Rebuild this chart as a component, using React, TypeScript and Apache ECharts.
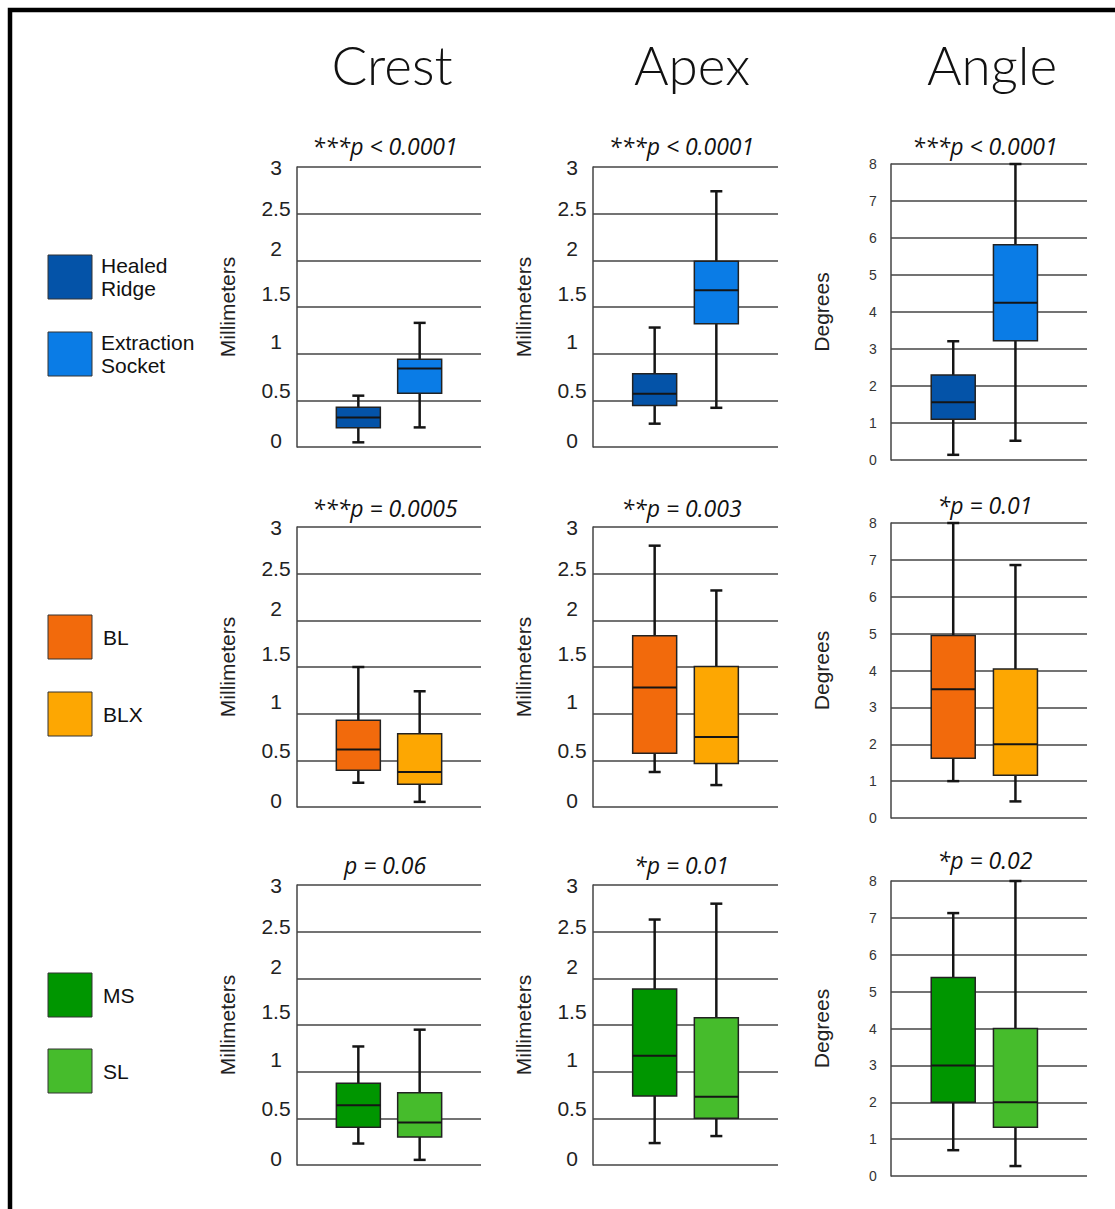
import React, { useEffect, useRef } from "react";
import * as echarts from "echarts";

// ---------- data ----------
const columnTitles = ["Crest", "Apex", "Angle"];
const axisNames = ["Millimeters", "Millimeters", "Degrees"];
const pLabels = [
  ["***p < 0.0001", "***p < 0.0001", "***p < 0.0001"],
  ["***p = 0.0005", "**p = 0.003", "*p = 0.01"],
  ["p = 0.06", "*p = 0.01", "*p = 0.02"],
];
const legendLabels = [["Healed", "Ridge"], ["Extraction", "Socket"], ["BL"], ["BLX"], ["MS"], ["SL"]];
const groupColors = ["#0453A8", "#0A7CE6", "#F26A0C", "#FDA702", "#009600", "#46BC2C"];

// [min, Q1, median, Q3, max]
const crestHealedRidge = [0.05, 0.205, 0.315, 0.425, 0.55];
const crestExtractionSocket = [0.21, 0.575, 0.84, 0.94, 1.33];
const apexHealedRidge = [0.25, 0.445, 0.57, 0.785, 1.28];
const apexExtractionSocket = [0.42, 1.32, 1.68, 1.99, 2.74];
const angleHealedRidge = [0.14, 1.1, 1.56, 2.3, 3.21];
const angleExtractionSocket = [0.52, 3.22, 4.25, 5.82, 8.0];

const crestBL = [0.26, 0.395, 0.615, 0.93, 1.5];
const crestBLX = [0.055, 0.245, 0.375, 0.785, 1.24];
const apexBL = [0.375, 0.575, 1.28, 1.835, 2.8];
const apexBLX = [0.235, 0.465, 0.75, 1.505, 2.32];
const angleBL = [1.0, 1.62, 3.49, 4.95, 8.0];
const angleBLX = [0.45, 1.16, 2.0, 4.04, 6.86];

const crestMS = [0.23, 0.405, 0.64, 0.875, 1.27];
const crestSL = [0.055, 0.3, 0.455, 0.775, 1.45];
const apexMS = [0.235, 0.74, 1.17, 1.885, 2.63];
const apexSL = [0.31, 0.5, 0.73, 1.578, 2.8];
const angleMS = [0.7, 2.0, 3.0, 5.38, 7.13];
const angleSL = [0.27, 1.32, 2.0, 4.0, 8.0];

const panelData = [
  [[crestHealedRidge, crestExtractionSocket], [apexHealedRidge, apexExtractionSocket], [angleHealedRidge, angleExtractionSocket]],
  [[crestBL, crestBLX], [apexBL, apexBLX], [angleBL, angleBLX]],
  [[crestMS, crestSL], [apexMS, apexSL], [angleMS, angleSL]],
];
const rowColors = [
  [groupColors[0], groupColors[1]],
  [groupColors[2], groupColors[3]],
  [groupColors[4], groupColors[5]],
];

// ---------- layout ----------
const FONT = "'Liberation Sans', Arial, Helvetica, sans-serif";
const GRID_COLOR = "#444";
const colLeft = [297, 593, 891];
const colWidth = [184, 185, 196];
const mmTop = [167, 527, 885];
const angleTop = [164, 523, 881];
const angleHeight = [296, 295, 295];
const pLabelY = [
  [146, 146, 146],
  [508, 508, 505],
  [865, 865, 860],
];
const legendTop = [255, 332, 615, 692, 973, 1049];
const mmLabelShift = [-7, -10, -12, -13.5, -12, -5, 0];

function makeRenderItem(colors: string[]) {
  return (params: any, api: any) => {
    const x = api.value(0);
    const lo = api.coord([x, api.value(1)]);
    const q1 = api.coord([x, api.value(2)]);
    const md = api.coord([x, api.value(3)]);
    const q3 = api.coord([x, api.value(4)]);
    const hi = api.coord([x, api.value(5)]);
    const cx = lo[0];
    const half = 22;
    const cap = 6;
    const color = colors[params.dataIndex];
    const ws = { stroke: "#151515", lineWidth: 2.5 };
    return {
      type: "group",
      children: [
        { type: "line", shape: { x1: cx, y1: hi[1], x2: cx, y2: lo[1] }, style: ws },
        { type: "line", shape: { x1: cx - cap, y1: hi[1], x2: cx + cap, y2: hi[1] }, style: ws },
        { type: "line", shape: { x1: cx - cap, y1: lo[1], x2: cx + cap, y2: lo[1] }, style: ws },
        {
          type: "rect",
          shape: { x: cx - half, y: q3[1], width: half * 2, height: q1[1] - q3[1] },
          style: { fill: color, stroke: "#222", lineWidth: 1.5 },
        },
        {
          type: "line",
          shape: { x1: cx - half, y1: md[1], x2: cx + half, y2: md[1] },
          style: { stroke: "#151515", lineWidth: 2 },
        },
      ],
    };
  };
}

function buildOption() {
  const grid: any[] = [];
  const xAxis: any[] = [];
  const yAxis: any[] = [];
  const series: any[] = [];
  const graphic: any[] = [];

  const mmRich: any = {};
  mmLabelShift.forEach((d, i) => {
    mmRich["s" + i] = {
      fontSize: 21,
      fontFamily: FONT,
      color: "#222",
      padding: d < 0 ? [0, 0, -2 * d, 0] : [2 * d, 0, 0, 0],
    };
  });

  for (let r = 0; r < 3; r++) {
    for (let c = 0; c < 3; c++) {
      const idx = r * 3 + c;
      const isAngle = c === 2;
      grid.push({
        left: colLeft[c],
        top: isAngle ? angleTop[r] : mmTop[r],
        width: colWidth[c],
        height: isAngle ? angleHeight[r] : 280,
        outerBoundsMode: "none",
      });
      xAxis.push({
        type: "value",
        gridIndex: idx,
        min: 0,
        max: isAngle ? 3.15 : 3,
        show: false,
        splitLine: { show: false },
      });
      yAxis.push({
        type: "value",
        gridIndex: idx,
        min: 0,
        max: isAngle ? 8 : 3,
        interval: isAngle ? 1 : 0.5,
        name: axisNames[c],
        nameLocation: "middle",
        nameGap: 59,
        nameTextStyle: { fontSize: 21, fontFamily: FONT, color: "#222" },
        axisLine: { show: true, lineStyle: { color: GRID_COLOR, width: 1.5 } },
        axisTick: { show: false },
        splitLine: { show: true, lineStyle: { color: GRID_COLOR, width: 1.5 } },
        axisLabel: isAngle
          ? { fontSize: 14, fontFamily: FONT, color: "#333", align: "center", margin: 18 }
          : {
              align: "center",
              margin: 21,
              fontSize: 21,
              fontFamily: FONT,
              color: "#222",
              formatter: (v: number) => `{s${Math.round(v * 2)}|${v}}`,
              rich: mmRich,
            },
      });
      series.push({
        type: "custom",
        xAxisIndex: idx,
        yAxisIndex: idx,
        renderItem: makeRenderItem(rowColors[r]),
        encode: { x: 0, y: [1, 2, 3, 4, 5] },
        data: panelData[r][c].map((v, i) => [i + 1, ...v]),
        clip: false,
      });
      graphic.push({
        type: "text",
        x: colLeft[c] + colWidth[c] / 2 - 4,
        y: pLabelY[r][c],
        style: {
          text: pLabels[r][c],
          fontSize: 23,
          fontStyle: "italic",
          fontFamily: "'Open Sans', 'Noto Sans', sans-serif",
          fill: "#111",
          align: "center",
          verticalAlign: "middle",
        },
      });
    }
  }

  // column titles
  const titleX = [392, 692, 992];
  columnTitles.forEach((t, i) => {
    graphic.push({
      type: "text",
      x: titleX[i],
      y: 64,
      style: {
        text: t,
        fontSize: 53,
        fontWeight: 300,
        fontFamily: "Lato, 'Open Sans', sans-serif",
        fill: "#111",
        align: "center",
        verticalAlign: "middle",
      },
    });
  });

  // legend
  legendLabels.forEach((lines, i) => {
    const top = legendTop[i];
    graphic.push({
      type: "rect",
      shape: { x: 48, y: top, width: 44, height: 44 },
      style: { fill: groupColors[i], stroke: "#333", lineWidth: 1 },
    });
    const lh = 23.5;
    const startY = top + 22 - ((lines.length - 1) * lh) / 2;
    lines.forEach((ln, j) => {
      graphic.push({
        type: "text",
        x: lines.length > 1 ? 101 : 103,
        y: startY + j * lh,
        style: {
          text: ln,
          fontSize: 21,
          fontFamily: FONT,
          fill: "#111",
          align: "left",
          verticalAlign: "middle",
        },
      });
    });
  });

  // frame (top and left edges visible)
  graphic.push({
    type: "rect",
    shape: { x: 10, y: 10, width: 1300, height: 1400 },
    style: { fill: "none", stroke: "#000", lineWidth: 4.5 },
  });

  return {
    animation: false,
    backgroundColor: "#ffffff",
    grid,
    xAxis,
    yAxis,
    series,
    graphic,
  };
}

export default function App() {
  const ref = useRef<HTMLDivElement>(null);
  useEffect(() => {
    if (!ref.current) return;
    const chart = echarts.init(ref.current, null, { renderer: "svg" });
    chart.setOption(buildOption() as any);
    return () => chart.dispose();
  }, []);
  return (
    <div
      ref={ref}
      style={{ position: "absolute", left: 0, top: 0, width: 1115, height: 1209 }}
    />
  );
}
